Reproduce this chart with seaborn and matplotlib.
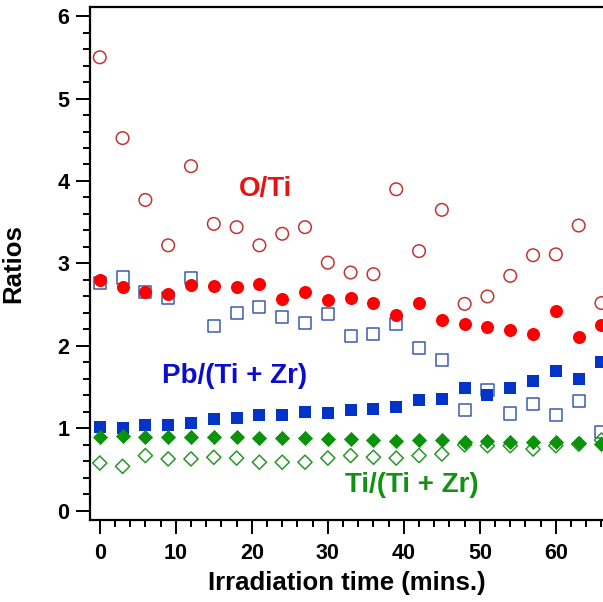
import matplotlib
matplotlib.use("Agg")

import matplotlib.pyplot as plt
from matplotlib.ticker import MultipleLocator
import pandas as pd
import seaborn as sns

# data (ratio vs irradiation time)
time = [0, 3, 6, 9, 12, 15, 18, 21, 24, 27, 30, 33, 36, 39, 42, 45, 48, 51, 54, 57, 60, 63, 66]

o_ti_open = [5.50, 4.52, 3.77, 3.22, 4.18, 3.48, 3.44, 3.22, 3.36, 3.44, 3.01, 2.89,
             2.87, 3.90, 3.15, 3.65, 2.51, 2.60, 2.85, 3.10, 3.11, 3.46, 2.52]
o_ti_filled = [2.80, 2.71, 2.65, 2.63, 2.74, 2.73, 2.71, 2.75, 2.57, 2.65, 2.56, 2.58,
               2.52, 2.38, 2.52, 2.32, 2.26, 2.23, 2.19, 2.15, 2.42, 2.11, 2.25]
pb_open = [2.76, 2.83, 2.65, 2.58, 2.82, 2.24, 2.40, 2.47, 2.35, 2.28, 2.39, 2.12,
           2.15, 2.27, 1.98, 1.83, 1.22, 1.47, 1.18, 1.30, 1.16, 1.33, 0.96]
pb_filled = [1.02, 1.01, 1.04, 1.04, 1.07, 1.11, 1.13, 1.16, 1.16, 1.20, 1.19, 1.22,
             1.23, 1.26, 1.35, 1.36, 1.49, 1.40, 1.49, 1.57, 1.70, 1.60, 1.81]
ti_open = [0.58, 0.54, 0.67, 0.63, 0.63, 0.65, 0.64, 0.59, 0.59, 0.59, 0.64, 0.67,
           0.65, 0.64, 0.67, 0.69, 0.80, 0.79, 0.79, 0.75, 0.79, 0.81, 0.86]
ti_filled = [0.90, 0.91, 0.89, 0.89, 0.89, 0.89, 0.89, 0.88, 0.88, 0.88, 0.87, 0.87,
             0.86, 0.85, 0.86, 0.86, 0.83, 0.85, 0.84, 0.84, 0.83, 0.82, 0.81]

df = pd.DataFrame({
    "time": time,
    "o_ti_open": o_ti_open, "o_ti_filled": o_ti_filled,
    "pb_open": pb_open, "pb_filled": pb_filled,
    "ti_open": ti_open, "ti_filled": ti_filled,
})

sns.set_style("ticks")
plt.rcParams["font.family"] = ["Liberation Sans", "DejaVu Sans"]
plt.rcParams["font.weight"] = "bold"
plt.rcParams["text.color"] = "black"
plt.rcParams["axes.labelcolor"] = "black"
plt.rcParams["xtick.color"] = "black"
plt.rcParams["ytick.color"] = "black"

fig = plt.figure(figsize=(6.03, 6.02), dpi=100)
ax = fig.add_axes([0.1493, 0.137, 0.8507, 0.8514])

# open markers first, filled ones on top
sns.scatterplot(data=df, x="time", y="o_ti_open", marker="o", s=82,
                facecolor="none", edgecolor="#c03434", linewidth=1.1, ax=ax)
sns.scatterplot(data=df, x="time", y="pb_open", marker="s", s=76,
                facecolor="none", edgecolor="#3a5cad", linewidth=1.1, ax=ax)
sns.scatterplot(data=df, x="time", y="ti_open", marker="D", s=52,
                facecolor="none", edgecolor="#2a962a", linewidth=1.1, ax=ax)
sns.scatterplot(data=df, x="time", y="o_ti_filled", marker="o", s=88,
                color="#ff0000", linewidth=0, ax=ax)
sns.scatterplot(data=df, x="time", y="pb_filled", marker="s", s=84,
                color="#0433c8", linewidth=0, ax=ax)
sns.scatterplot(data=df, x="time", y="ti_filled", marker="D", s=60,
                color="#0a930a", linewidth=0, ax=ax)

ax.text(21.8, 3.90, "O/Ti", color="#e81212", fontsize=20, fontweight="bold",
        ha="center", va="center")
ax.text(17.7, 1.63, "Pb/(Ti + Zr)", color="#0c0ccc", fontsize=20, fontweight="bold",
        ha="center", va="center")
ax.text(41.1, 0.31, "Ti/(Ti + Zr)", color="#129212", fontsize=20, fontweight="bold",
        ha="center", va="center")

ax.set_xlim(-1.28, 66.2)
ax.set_ylim(-0.105, 6.11)
ax.xaxis.set_major_locator(MultipleLocator(10))
ax.xaxis.set_minor_locator(MultipleLocator(2))
ax.yaxis.set_major_locator(MultipleLocator(1))
ax.yaxis.set_minor_locator(MultipleLocator(0.2))

ax.tick_params(which="major", direction="out", length=10, width=1.4,
               labelsize=15.5, pad=7, color="black", labelcolor="black")
ax.tick_params(which="minor", direction="out", length=5, width=1.4, color="black")
ax.tick_params(axis="y", which="major", pad=5)
for lab in ax.get_xticklabels() + ax.get_yticklabels():
    lab.set_fontweight("bold")

for side in ["left", "bottom", "top"]:
    ax.spines[side].set_linewidth(1.6)
    ax.spines[side].set_color("black")
ax.spines["right"].set_visible(False)

ax.set_xlabel("Irradiation time (mins.)", fontsize=18.5, fontweight="bold",
              labelpad=5, color="black")
ax.set_ylabel("Ratios", fontsize=18.5, fontweight="bold", color="black")
ax.yaxis.set_label_coords(-0.127, 0.5)

fig.savefig("out.png", dpi=100)
plt.close(fig)
